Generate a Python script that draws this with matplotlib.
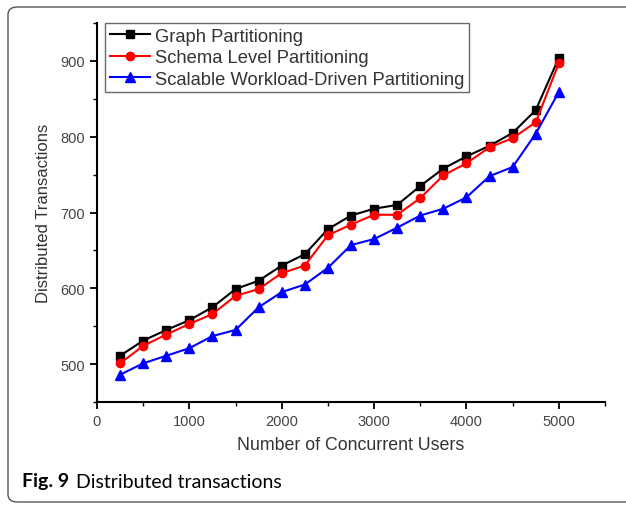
import matplotlib
matplotlib.use("Agg")
import matplotlib.pyplot as plt
from matplotlib.patches import FancyBboxPatch
from matplotlib.ticker import MultipleLocator

users = [250, 500, 750, 1000, 1250, 1500, 1750, 2000, 2250, 2500,
         2750, 3000, 3250, 3500, 3750, 4000, 4250, 4500, 4750, 5000]
graph_part = [511, 531, 545, 558, 575, 599, 610, 630, 645, 678,
              696, 705, 710, 735, 758, 774, 788, 805, 835, 904]
schema_part = [501, 524, 539, 553, 566, 590, 599, 620, 630, 670,
               684, 697, 697, 719, 749, 765, 786, 798, 819, 897]
scalable_part = [486, 501, 511, 521, 537, 545, 575, 595, 605, 627,
                 657, 665, 680, 696, 705, 720, 748, 760, 804, 859]
series_labels = ["Graph Partitioning", "Schema Level Partitioning",
                 "Scalable Workload-Driven Partitioning"]
x_label = "Number of Concurrent Users"
y_label = "Distributed Transactions"

plt.rcParams['font.family'] = ['Liberation Sans', 'DejaVu Sans']

fig = plt.figure(figsize=(6.26, 5.06), dpi=100)

# outer rounded frame
frame = FancyBboxPatch((8/626, 3/506), 640/626, 495/506,
                       boxstyle="round,pad=0,rounding_size=0.015",
                       transform=fig.transFigure, fill=False,
                       edgecolor="#555555", linewidth=1.0)
fig.patches.append(frame)

ax = fig.add_axes([97/626, 1 - 403/506, (605 - 97)/626, (403 - 24)/506])
ax.plot(users, graph_part, color="black", marker="s", markersize=6,
        linewidth=1.5, label=series_labels[0])
ax.plot(users, schema_part, color="red", marker="o", markersize=6,
        linewidth=1.5, label=series_labels[1])
ax.plot(users, scalable_part, color="blue", marker="^", markersize=7,
        linewidth=1.5, label=series_labels[2])

ax.set_xlim(0, 5500)
ax.set_ylim(450, 950)
ax.xaxis.set_major_locator(MultipleLocator(1000))
ax.xaxis.set_minor_locator(MultipleLocator(500))
ax.yaxis.set_major_locator(MultipleLocator(100))
ax.yaxis.set_minor_locator(MultipleLocator(50))
ax.spines['top'].set_visible(False)
ax.spines['right'].set_visible(False)
ax.spines['left'].set_linewidth(1.5)
ax.spines['bottom'].set_linewidth(1.5)
ax.tick_params(which='major', length=5, width=1.3, direction='out',
               labelsize=10.5, labelcolor="#444444")
ax.tick_params(which='minor', length=3, width=1.0, direction='out')
ax.set_xlabel(x_label, fontsize=12.8, color="#333333", labelpad=6)
ax.set_ylabel(y_label, fontsize=12, color="#333333", labelpad=7)

leg = ax.legend(loc="upper left", bbox_to_anchor=(8/508, 1.0), fontsize=13.2,
                frameon=True, fancybox=False, edgecolor="#444444",
                borderaxespad=0.0, handlelength=2.2, handletextpad=0.3,
                labelspacing=0.25, borderpad=0.25)
leg.get_frame().set_linewidth(1.0)
for t in leg.get_texts():
    t.set_color("#333333")

fig.text(22/626, 1 - 482/506, "Fig. 9", fontsize=14, fontweight="bold",
         family=['Lato', 'DejaVu Sans'], va="center", ha="left")
fig.text(76/626, 1 - 482/506, "Distributed transactions", fontsize=14,
         family=['Lato', 'DejaVu Sans'], va="center", ha="left")

fig.savefig("out.png", dpi=100)
